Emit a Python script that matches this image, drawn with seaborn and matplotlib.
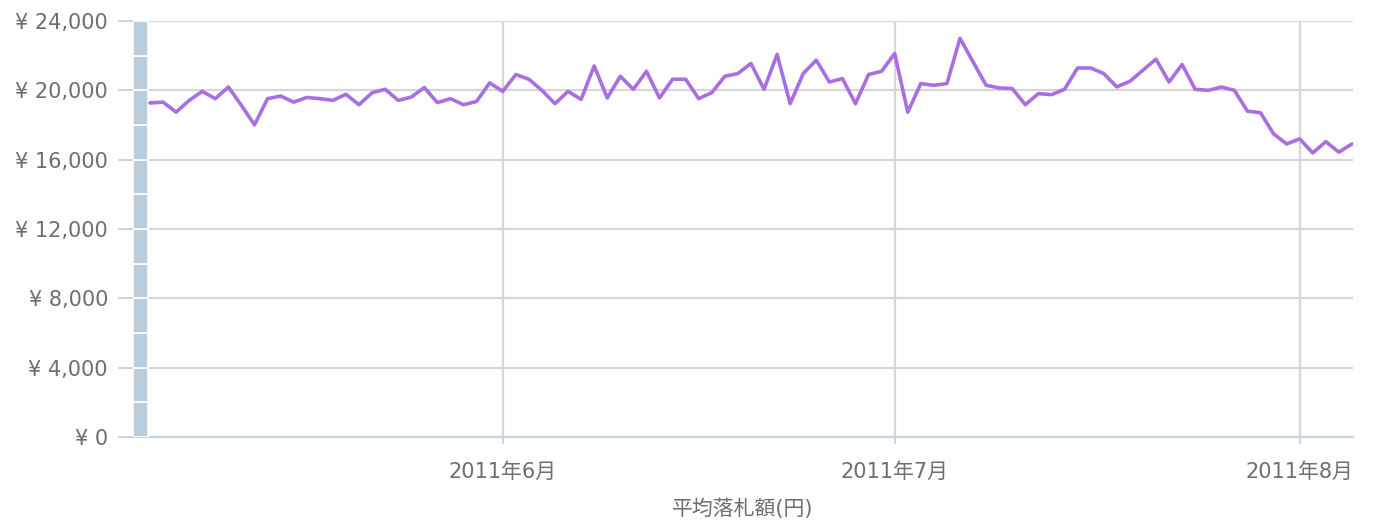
import numpy as np
import pandas as pd
import matplotlib
matplotlib.use("Agg")
import matplotlib.pyplot as plt
import matplotlib.dates as mdates
from matplotlib.ticker import FuncFormatter, MultipleLocator
import seaborn as sns

# ---- data ----
start_date = "2011-05-05"
end_date = "2011-08-05"
avg_price = [
    19270, 19320, 18740, 19420, 19940, 19520, 20190, 19130, 18010, 19520,
    19670, 19320, 19590, 19520, 19420, 19770, 19170, 19860, 20060, 19420,
    19610, 20160, 19290, 19520, 19170, 19360, 20430, 19940, 20910, 20640,
    20000, 19230, 19940, 19480, 21410, 19560, 20810, 20060, 21100, 19560,
    20640, 20640, 19520, 19870, 20810, 20970, 21550, 20060, 22070, 19230,
    20970, 21740, 20480, 20680, 19230, 20910, 21100, 22120, 18740, 20390,
    20290, 20390, 23000, 21640, 20290, 20140, 20100, 19170, 19810, 19750,
    20060, 21290, 21290, 20970, 20200, 20520, 21160, 21800, 20480, 21490,
    20060, 20000, 20190, 20000, 18800, 18710, 17490, 16910, 17200, 16390,
    17040, 16430, 16910,
]
bar_segments = [2000] * 12
y_ticks = [0, 4000, 8000, 12000, 16000, 20000, 24000]
month_ticks = ["2011-06-01", "2011-07-01", "2011-08-01"]
x_label = "平均落札額(円)"

dates = pd.date_range(start_date, end_date, freq="D")
df = pd.DataFrame({"date": dates, "price": avg_price})

sns.set_theme(style="white")
plt.rcParams["font.family"] = ["DejaVu Sans", "Noto Sans CJK JP"]

fig = plt.figure(figsize=(13.73, 5.21), dpi=100)
ax = fig.add_axes([133 / 1373, 84 / 521, 1220 / 1373, 416 / 521])

x0 = mdates.date2num(pd.Timestamp(start_date)) - 1.3
x1 = mdates.date2num(pd.Timestamp(end_date)) + 0.08

# left stacked column band
bottom = 0
for seg in bar_segments:
    ax.bar(x0, seg, width=1.15, bottom=bottom, align="edge",
           color="#bacddd", edgecolor="white", linewidth=1.2, zorder=3)
    bottom += seg

sns.lineplot(data=df, x="date", y="price", ax=ax, color="#a96fe2",
             linewidth=2.6, zorder=4)

ax.set_xlim(x0, x1)
ax.set_ylim(0, 24000)
ax.set_yticks(y_ticks)
ax.yaxis.set_major_formatter(FuncFormatter(lambda v, p: "¥ " + f"{int(v):,}"))
ax.set_xticks([mdates.date2num(pd.Timestamp(d)) for d in month_ticks])
ax.xaxis.set_major_formatter(FuncFormatter(
    lambda v, p: f"{mdates.num2date(v).year}年{mdates.num2date(v).month}月"))

ax.grid(True, color="#d6d6d6", linewidth=1.6, zorder=0)
ax.set_axisbelow(True)
for s in ["top", "right", "left"]:
    ax.spines[s].set_visible(False)
ax.spines["bottom"].set_color("#c5d5e5")
ax.spines["bottom"].set_linewidth(1.6)

ax.tick_params(axis="y", length=11, width=1.4, color="#c5d5e5",
               labelsize=15, labelcolor="#6e6e6e", pad=7, left=True)
ax.tick_params(axis="x", length=5, width=1.4, color="#c5d5e5",
               labelsize=15, labelcolor="#6e6e6e", pad=13, bottom=True)

ax.set_ylabel("")
ax.set_xlabel(x_label, fontsize=15, color="#6e6e6e", labelpad=12)

fig.savefig("out.png", dpi=100)
